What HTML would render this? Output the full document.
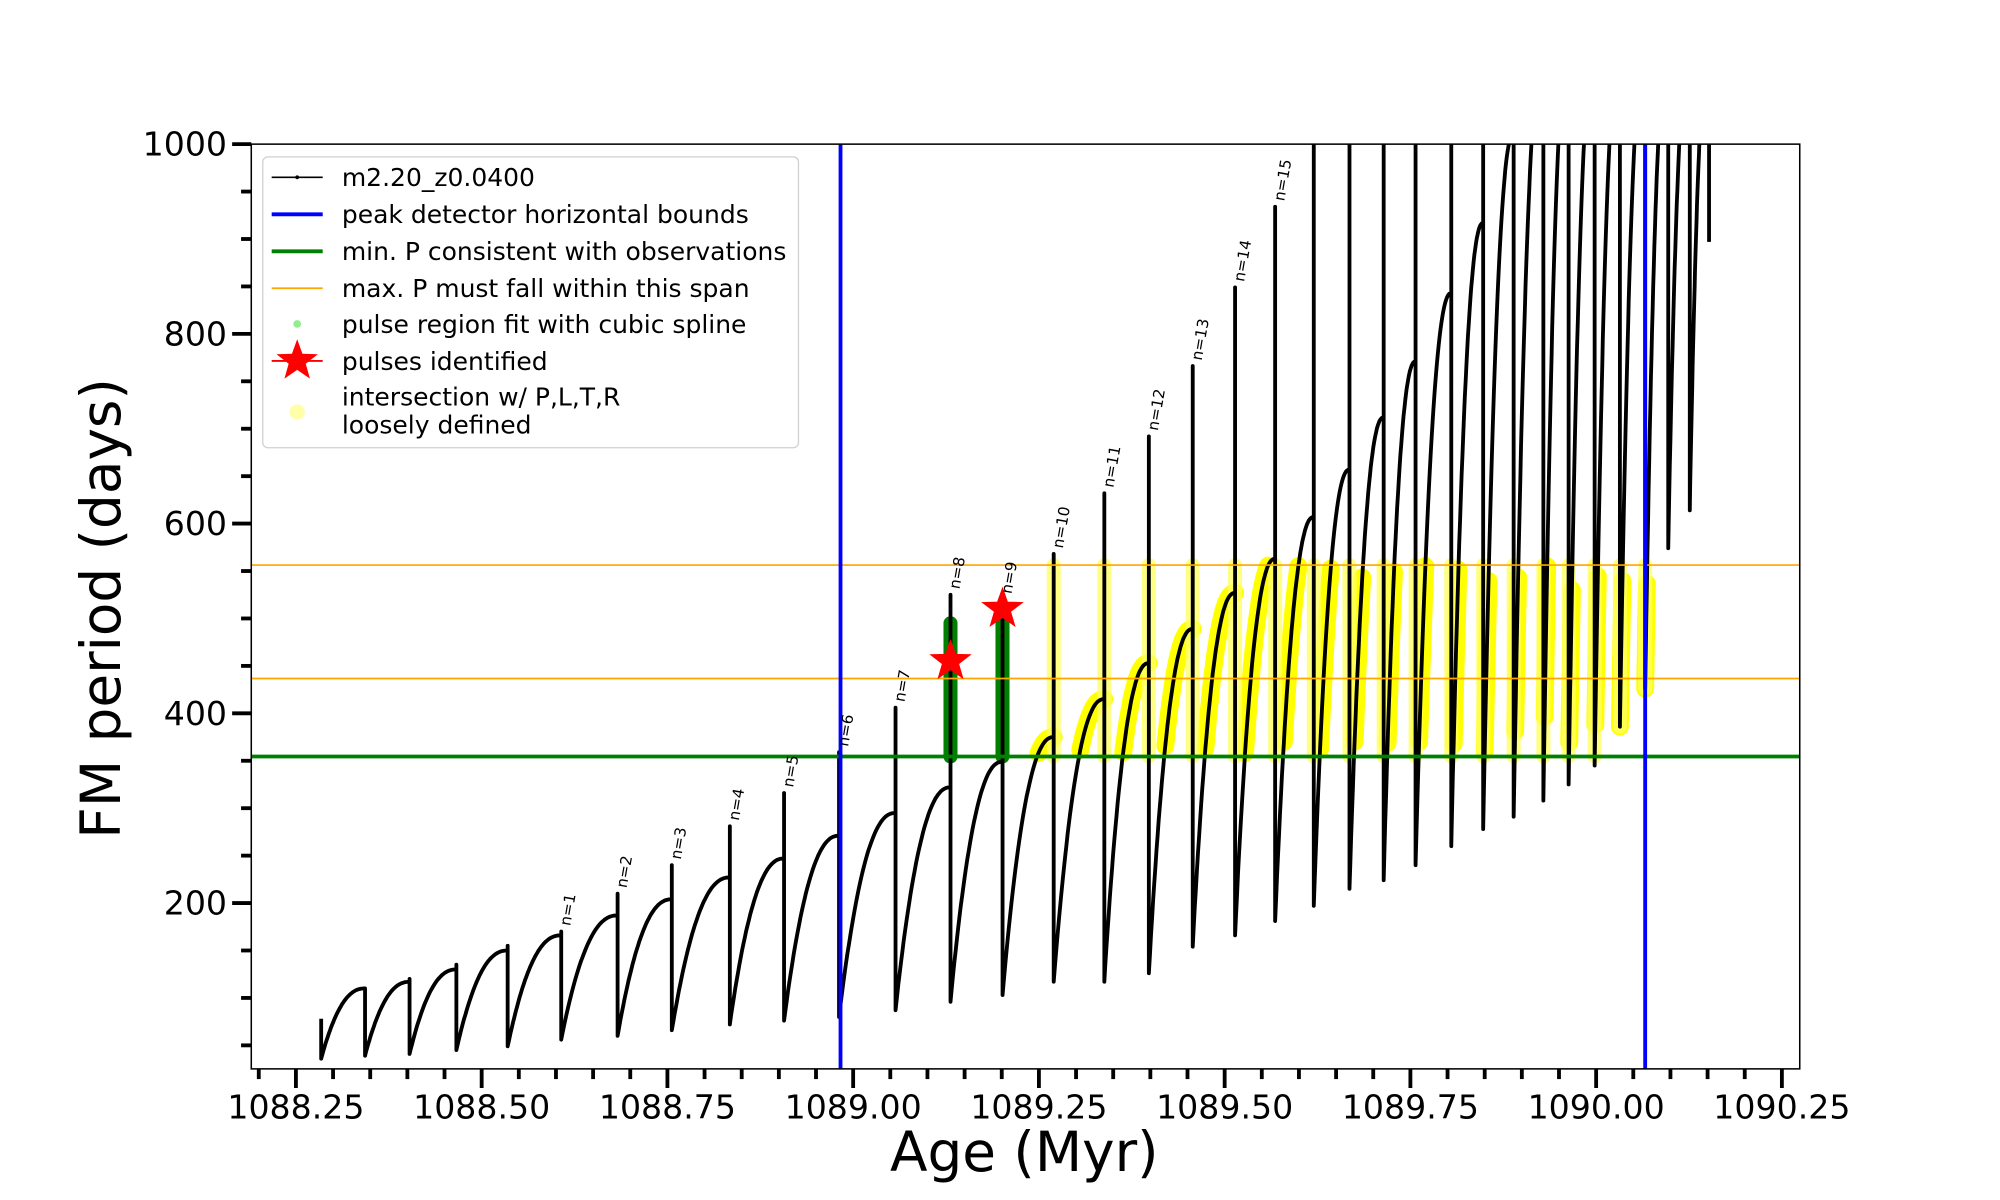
<!DOCTYPE html>
<html><head><meta charset="utf-8"><style>
html,body{margin:0;padding:0;background:#fff;}
svg{display:block;font-family:"DejaVu Sans","Liberation Sans",sans-serif;}
</style></head><body>
<svg id="chart" width="2000" height="1200" viewBox="0 0 1568 940.8" xmlns="http://www.w3.org/2000/svg">
<defs><clipPath id="plotclip"><rect x="197" y="113" width="1214" height="725"/></clipPath></defs>
<rect x="0" y="0" width="1568" height="941" fill="#fff"/>
<g id="plot" clip-path="url(#plotclip)"></g>
<g id="axes"></g>
</svg>
<script>
const pulseAges=[1088.284,1088.343,1088.403,1088.466,1088.535,1088.607,1088.683,1088.756,1088.834,1088.907,1088.981,1089.057,1089.131,1089.201,1089.270,1089.338,1089.398,1089.457,1089.514,1089.568,1089.620,1089.668,1089.714,1089.757,1089.805,1089.848,1089.889,1089.929,1089.963,1089.998,1090.032,1090.066,1090.097,1090.126,1090.152];
const spikePeak=[78,110,120,135,155,170,210,240,281,316,359,406,525,520,568,632,692,766,849,934,1100,1100,1100,1100,1100,1100,1100,1100,1100,1100,1100,1100,1100,1100,1100];
const preMax=[110,117,130,150,166,187,204,227,247,271,295,322,349,375,415,453,489,527,563,607,657,712,771,843,917,1010,1100,1100,1100,1100,1100,1100,1100,1100];
const postMin=[36,39,41,45,49,56,60,66,72,76,80,87,96,103,117,117,126,154,166,181,197,215,224,240,260,278,291,308,325,345,386,426,574,614,897];
const labelPulses=[5,6,7,8,9,10,11,12,13,14,15,16,17,18,19];
const minP=354.5, maxPLow=436.7, maxPHigh=556.3;
const boundAges=[1088.983,1090.066];
const starAges=[1089.131,1089.201], starP=[455,510];
const xTicks=[1088.25,1088.5,1088.75,1089.0,1089.25,1089.5,1089.75,1090.0,1090.25];
const xTickLabels=["1088.25","1088.50","1088.75","1089.00","1089.25","1089.50","1089.75","1090.00","1090.25"];
const yTicks=[200,400,600,800,1000];

const NS="http://www.w3.org/2000/svg";
const X=a=>232+(a-1088.25)*582.5;
const Y=p=>113+(1000-p)*595/800;
function mk(tag,attrs,parent){const e=document.createElementNS(NS,tag);for(const k in attrs)e.setAttribute(k,attrs[k]);parent.appendChild(e);return e;}
const plot=document.getElementById('plot'), axes=document.getElementById('axes');
const shape=f=>1-Math.pow(1-f,2.3);

const pts=[]; const segs=[];
for(let i=0;i<pulseAges.length;i++){
  const t0=pulseAges[i];
  pts.push([t0,spikePeak[i]]);
  pts.push([t0,postMin[i]]);
  if(i<pulseAges.length-1){
    const t1=pulseAges[i+1], s=[];
    for(let j=1;j<=40;j++){const f=j/40;const p=postMin[i]+(preMax[i]-postMin[i])*shape(f);pts.push([t0+(t1-t0)*f,p]);s.push([t0+(t1-t0)*f,p]);}
    segs.push({i,s});
  }
}
const yel=mk('g',{},plot);


segs.forEach(sg=>{
  if(sg.i<13) return;
  let d='';let pen=false;
  [[pulseAges[sg.i],postMin[sg.i]]].concat(sg.s).forEach(([a,p])=>{
    if(p>=minP&&p<=maxPHigh){d+=(pen?'L':'M')+X(a).toFixed(1)+','+Y(p).toFixed(1);pen=true;}else pen=false;});
  if(d) mk('path',{d,stroke:'#ffff00',"stroke-width":14,fill:'none',"stroke-linecap":'round',"stroke-linejoin":'round'},yel);
});
for(let i=14;i<pulseAges.length;i++){
  const lo=Math.max(minP,postMin[i]), hi=Math.min(maxPHigh,spikePeak[i]);
  if(hi>lo) mk('line',{x1:X(pulseAges[i]),x2:X(pulseAges[i]),y1:Y(lo),y2:Y(hi),stroke:'#ffff66',"stroke-width":11,opacity:0.8,"stroke-linecap":'round'},yel);
}
[12,13].forEach(i=>{
  const g=mk('line',{x1:X(pulseAges[i]),x2:X(pulseAges[i]),y1:Y(minP),y2:Y(495),stroke:'#008000',"stroke-width":11,"stroke-linecap":'round'},plot);
  
  
});
const curve=mk('polyline',{points:pts.map(p=>X(p[0]).toFixed(1)+','+Y(p[1]).toFixed(1)).join(' '),fill:'none',stroke:'#000',"stroke-width":3,"stroke-linejoin":'round'},plot);


const hg=mk('line',{x1:197,x2:1411,y1:Y(minP),y2:Y(minP),stroke:'#008000',"stroke-width":3},plot);


[maxPLow,maxPHigh].forEach(v=>{const l=mk('line',{x1:197,x2:1411,y1:Y(v),y2:Y(v),stroke:'#ffa500',"stroke-width":1.3},plot);

});
boundAges.forEach(a=>{const l=mk('line',{x1:X(a),x2:X(a),y1:113,y2:838,stroke:'#0000ff',"stroke-width":3},plot);

});
function starPath(cx,cy,R,r){let d='';for(let k=0;k<10;k++){const ang=-Math.PI/2+k*Math.PI/5;const rr=k%2?r:R;d+=(k?'L':'M')+(cx+rr*Math.cos(ang)).toFixed(1)+','+(cy+rr*Math.sin(ang)).toFixed(1);}return d+'Z';}
starAges.forEach((a,k)=>{const s=mk('path',{d:starPath(X(a),Y(starP[k]),16,6.5),fill:'#ff0000',stroke:'#ff0000'},plot);

});
labelPulses.forEach((pi,k)=>{const x=X(pulseAges[pi])+7,y=Y(spikePeak[pi])-4;
const t=mk('text',{x:0,y:0,transform:`translate(${x},${y}) rotate(-80)`,"font-size":12},plot);t.textContent='n='+(k+1);

});
const fr=mk('rect',{x:197,y:113,width:1214,height:725,fill:'none',stroke:'#000',"stroke-width":1.2},axes);


for(let a=1088.20;a<=1090.2701;a+=0.05){const x=X(a);const major=xTicks.some(t=>Math.abs(t-a)<1e-6);
mk('line',{x1:x,x2:x,y1:838,y2:major?853:846,stroke:'#000',"stroke-width":3},axes);}
xTicks.forEach((t,i)=>{const e=mk('text',{x:X(t),y:877,"font-size":26,"text-anchor":'middle'},axes);e.textContent=xTickLabels[i];

});
for(let p=50;p<=1000;p+=50){const y=Y(p);if(y>838)continue;const major=p%200===0;
mk('line',{x1:197,x2:major?182:189,y1:y,y2:y,stroke:'#000',"stroke-width":3},axes);}
yTicks.forEach(t=>{const e=mk('text',{x:178,y:Y(t)+9,"font-size":26,"text-anchor":'end'},axes);e.textContent=String(t);

});
const xt=mk('text',{x:803,y:918,"font-size":43,"text-anchor":'middle'},axes);xt.textContent='Age (Myr)';


const yt=mk('text',{x:0,y:0,transform:'translate(94,477) rotate(-90)',"font-size":43,"text-anchor":'middle'},axes);yt.textContent='FM period (days)';


const lg=mk('g',{},axes);


mk('rect',{x:206,y:123,width:420,height:228,rx:4,fill:'#fff',stroke:'#ccc',"stroke-width":1,opacity:0.9},lg);
const items=[["m2.20_z0.0400",139],["peak detector horizontal bounds",168],["min. P consistent with observations",197],["max. P must fall within this span",226],["pulse region fit with cubic spline",254],["pulses identified",283]];
items.forEach(([s,y],i)=>{const t=mk('text',{x:268,y:y+7,"font-size":19.6},lg);t.textContent=s;

});
mk('line',{x1:213,x2:253,y1:139,y2:139,stroke:'#000',"stroke-width":1.3},lg);
mk('circle',{cx:233,cy:139,r:1.5,fill:'#000'},lg);
mk('line',{x1:213,x2:253,y1:168,y2:168,stroke:'#0000ff',"stroke-width":3},lg);
mk('line',{x1:213,x2:253,y1:197,y2:197,stroke:'#008000',"stroke-width":3},lg);
mk('line',{x1:213,x2:253,y1:226,y2:226,stroke:'#ffa500',"stroke-width":1.3},lg);
mk('circle',{cx:233,cy:254,r:3,fill:'#90ee90'},lg);
mk('line',{x1:213,x2:253,y1:283,y2:283,stroke:'#ff0000',"stroke-width":1.5},lg);
mk('path',{d:starPath(233,283,17,7),fill:'#ff0000'},lg);
mk('circle',{cx:233,cy:323,r:6,fill:'#ffffaa'},lg);
const t1=mk('text',{x:268,y:318,"font-size":19.6},lg);t1.textContent='intersection w/ P,L,T,R';


const t2=mk('text',{x:268,y:340,"font-size":19.6},lg);t2.textContent='loosely defined';


</script>
</body></html>
